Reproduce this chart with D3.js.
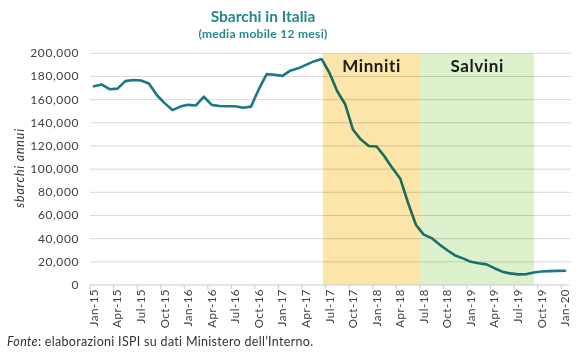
<!DOCTYPE html>
<html>
<head>
<meta charset="utf-8">
<script src="https://cdn.jsdelivr.net/npm/d3@7"></script>
<style>
  body { margin: 0; background: #fff; }
  svg { display: block; font-family: Lato, "Open Sans", sans-serif; }
</style>
</head>
<body>
<div id="chart"></div>
<script>
// arrivi, media mobile 12 mesi, da Jan-15 a Jan-20 (un valore al mese)
const values = [
  171500, 173000, 169000, 169500, 176000, 177000, 176500, 174000, 164000, 157000, 151000, 154000,
  155500, 155000, 162500, 155500, 154500, 154300, 154300, 153000, 154000, 169000, 182000, 181500,
  180500, 185000, 187000, 190000, 193000, 195000, 183000, 167000, 156000, 134000, 125500, 120000,
  119500, 111000, 101000, 92000, 71000, 52000, 43500, 40500, 35000, 30000, 25500, 23000,
  20000, 18800, 17800, 14500, 11500, 10000, 9200, 9300, 10800, 11700, 12000, 12200,
  12300
];
const startMonth = new Date(2015, 0, 1);
const yTicks = [0, 20000, 40000, 60000, 80000, 100000, 120000, 140000, 160000, 180000, 200000];
// periodi dei ministri, in mesi dall'inizio della serie
const bandNames = ['Minniti', 'Salvini'];
const bandStart = [29.65, 42.05];
const bandEnd = [42.05, 56.55];
const bandColors = ['#fce5a9', '#ddf1cd'];

const W = 580, H = 360;
const margin = { top: 53.3, right: 11, bottom: 75, left: 90 };

const months = d3.timeMonths(startMonth, d3.timeMonth.offset(startMonth, values.length));
const fmt = d3.timeFormat('%b-%y');

const svg = d3.select('#chart').append('svg').attr('width', W).attr('height', H);

const x = d3.scaleLinear().domain([0, values.length]).range([margin.left, W - margin.right]);
const y = d3.scaleLinear().domain([0, 200000]).range([H - margin.bottom, margin.top]);

// titolo
svg.append('text').attr('x', 263).attr('y', 21.5).attr('text-anchor', 'middle')
  .attr('fill', '#23888c').attr('font-weight', 700).attr('font-size', 15.5)
  .text('Sbarchi in Italia');
svg.append('text').attr('x', 263).attr('y', 37.5).attr('text-anchor', 'middle')
  .attr('fill', '#23888c').attr('font-weight', 700).attr('font-size', 12)
  .attr('letter-spacing', 0.3)
  .text('(media mobile 12 mesi)');

// griglia
svg.append('g').selectAll('line').data(yTicks.filter(d => d > 0)).join('line')
  .attr('x1', x(0)).attr('x2', W - margin.right + 2)
  .attr('y1', d => y(d)).attr('y2', d => y(d))
  .attr('stroke', '#d9d9d9').attr('stroke-width', 1);

// etichette asse y
svg.append('g').selectAll('text').data(yTicks).join('text')
  .attr('x', 79).attr('y', d => y(d) + 4)
  .attr('text-anchor', 'end').attr('font-size', 12).attr('fill', '#404040')
  .attr('letter-spacing', 0.6)
  .text(d => d3.format(',')(d));

svg.append('text')
  .attr('transform', `translate(24,168) rotate(-90)`)
  .attr('text-anchor', 'middle').attr('font-size', 12.5).attr('font-style', 'italic')
  .attr('letter-spacing', 0.8)
  .attr('fill', '#333').text('sbarchi annui');

// linea
const line = d3.line().x((d, i) => x(i + 0.5)).y(d => y(d)).curve(d3.curveLinear);
svg.append('path').datum(values)
  .attr('d', line).attr('fill', 'none')
  .attr('stroke', '#1b7889').attr('stroke-width', 2.6)
  .attr('stroke-linejoin', 'round').attr('stroke-linecap', 'round');

// fasce
svg.append('g').selectAll('rect').data(bandNames).join('rect')
  .attr('x', (d, i) => x(bandStart[i]))
  .attr('width', (d, i) => x(bandEnd[i]) - x(bandStart[i]))
  .attr('y', y(200000)).attr('height', y(0) - y(200000))
  .attr('fill', (d, i) => bandColors[i])
  .style('mix-blend-mode', 'multiply');

svg.append('g').selectAll('text').data(bandNames).join('text')
  .attr('x', (d, i) => (x(bandStart[i]) + x(bandEnd[i])) / 2)
  .attr('y', 71.7).attr('text-anchor', 'middle')
  .attr('font-size', 17).attr('font-weight', 700).attr('fill', '#1a1a1a')
  .attr('letter-spacing', 0.6)
  .text(d => d);

// asse x
svg.append('line').attr('x1', x(0)).attr('x2', x(values.length))
  .attr('y1', y(0)).attr('y2', y(0)).attr('stroke', '#c8c8c8');

const tickIdx = d3.range(0, values.length, 3);
svg.append('g').selectAll('line').data(tickIdx).join('line')
  .attr('x1', d => x(d)).attr('x2', d => x(d))
  .attr('y1', y(0)).attr('y2', y(0) + 4).attr('stroke', '#c8c8c8');

svg.append('g').selectAll('text').data(tickIdx).join('text')
  .attr('transform', d => `translate(${x(d + 0.5) + 4},${y(0) + 4}) rotate(-90)`)
  .attr('text-anchor', 'end').attr('font-size', 11.5).attr('fill', '#404040')
  .attr('letter-spacing', 0.5)
  .text(d => fmt(months[d]));

// fonte
const src = svg.append('text').attr('x', 7).attr('y', 345.5)
  .attr('font-size', 12.5).attr('fill', '#333').attr('letter-spacing', 0.3);
src.append('tspan').attr('font-style', 'italic').text('Fonte');
src.append('tspan').text(': elaborazioni ISPI su dati Ministero dell\u2019Interno.');
</script>
</body>
</html>
